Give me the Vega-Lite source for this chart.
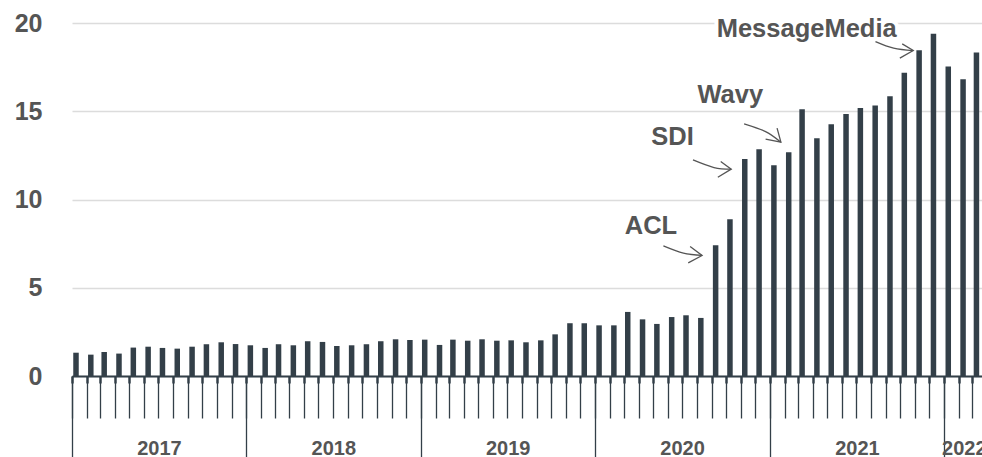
{
  "$schema": "https://vega.github.io/schema/vega-lite/v6.json",
  "width": 910,
  "height": 353,
  "autosize": {"type": "none"},
  "padding": {"left": 72, "top": 23, "right": 0, "bottom": 81},
  "background": "white",
  "config": {"view": {"stroke": null}, "font": "Liberation Sans"},
  "datasets": {
    "bars": [
      {"date": "2017-01-01", "value": 1.32}, {"date": "2017-02-01", "value": 1.21}, {"date": "2017-03-01", "value": 1.36},
      {"date": "2017-04-01", "value": 1.27}, {"date": "2017-05-01", "value": 1.61}, {"date": "2017-06-01", "value": 1.66},
      {"date": "2017-07-01", "value": 1.59}, {"date": "2017-08-01", "value": 1.55}, {"date": "2017-09-01", "value": 1.66},
      {"date": "2017-10-01", "value": 1.80}, {"date": "2017-11-01", "value": 1.91}, {"date": "2017-12-01", "value": 1.81},
      {"date": "2018-01-01", "value": 1.74}, {"date": "2018-02-01", "value": 1.59}, {"date": "2018-03-01", "value": 1.80},
      {"date": "2018-04-01", "value": 1.74}, {"date": "2018-05-01", "value": 1.97}, {"date": "2018-06-01", "value": 1.93},
      {"date": "2018-07-01", "value": 1.70}, {"date": "2018-08-01", "value": 1.74}, {"date": "2018-09-01", "value": 1.80},
      {"date": "2018-10-01", "value": 1.97}, {"date": "2018-11-01", "value": 2.08}, {"date": "2018-12-01", "value": 2.04},
      {"date": "2019-01-01", "value": 2.06}, {"date": "2019-02-01", "value": 1.76}, {"date": "2019-03-01", "value": 2.06},
      {"date": "2019-04-01", "value": 2.00}, {"date": "2019-05-01", "value": 2.08}, {"date": "2019-06-01", "value": 2.00},
      {"date": "2019-07-01", "value": 2.02}, {"date": "2019-08-01", "value": 1.91}, {"date": "2019-09-01", "value": 2.02},
      {"date": "2019-10-01", "value": 2.36}, {"date": "2019-11-01", "value": 2.99}, {"date": "2019-12-01", "value": 2.99},
      {"date": "2020-01-01", "value": 2.87}, {"date": "2020-02-01", "value": 2.87}, {"date": "2020-03-01", "value": 3.63},
      {"date": "2020-04-01", "value": 3.21}, {"date": "2020-05-01", "value": 2.95}, {"date": "2020-06-01", "value": 3.34},
      {"date": "2020-07-01", "value": 3.44}, {"date": "2020-08-01", "value": 3.29}, {"date": "2020-09-01", "value": 7.41},
      {"date": "2020-10-01", "value": 8.88}, {"date": "2020-11-01", "value": 12.30}, {"date": "2020-12-01", "value": 12.85},
      {"date": "2021-01-01", "value": 11.94}, {"date": "2021-02-01", "value": 12.68}, {"date": "2021-03-01", "value": 15.12},
      {"date": "2021-04-01", "value": 13.47}, {"date": "2021-05-01", "value": 14.27}, {"date": "2021-06-01", "value": 14.85},
      {"date": "2021-07-01", "value": 15.19}, {"date": "2021-08-01", "value": 15.32}, {"date": "2021-09-01", "value": 15.85},
      {"date": "2021-10-01", "value": 17.18}, {"date": "2021-11-01", "value": 18.46}, {"date": "2021-12-01", "value": 19.39},
      {"date": "2022-01-01", "value": 17.54}, {"date": "2022-02-01", "value": 16.82}, {"date": "2022-03-01", "value": 18.33}
    ],
    "labels": [
      {"date": "2020-04-27", "value": 8.5, "label": "ACL"},
      {"date": "2020-06-11", "value": 13.55, "label": "SDI"},
      {"date": "2020-10-10", "value": 15.93, "label": "Wavy"},
      {"date": "2021-03-19", "value": 19.67, "label": "MessageMedia"}
    ],
    "shafts": [
      {"arrow": "ACL", "i": 1, "date": "2020-05-23", "value": 7.37},
      {"arrow": "ACL", "i": 2, "date": "2020-07-04", "value": 6.96},
      {"arrow": "ACL", "i": 3, "date": "2020-08-12", "value": 6.83},
      {"arrow": "SDI", "i": 1, "date": "2020-07-24", "value": 12.24},
      {"arrow": "SDI", "i": 2, "date": "2020-09-06", "value": 11.81},
      {"arrow": "SDI", "i": 3, "date": "2020-10-12", "value": 11.72},
      {"arrow": "Wavy", "i": 1, "date": "2020-11-08", "value": 14.29},
      {"arrow": "Wavy", "i": 2, "date": "2020-12-23", "value": 13.85},
      {"arrow": "Wavy", "i": 3, "date": "2021-01-24", "value": 13.25},
      {"arrow": "MessageMedia", "i": 1, "date": "2021-08-10", "value": 18.95},
      {"arrow": "MessageMedia", "i": 2, "date": "2021-09-17", "value": 18.58},
      {"arrow": "MessageMedia", "i": 3, "date": "2021-10-28", "value": 18.44}
    ],
    "heads": [
      {"arrow": "ACL", "i": 1, "date": "2020-07-18", "value": 7.34},
      {"arrow": "ACL", "i": 2, "date": "2020-08-12", "value": 6.83},
      {"arrow": "ACL", "i": 3, "date": "2020-07-14", "value": 6.41},
      {"arrow": "SDI", "i": 1, "date": "2020-09-20", "value": 12.15},
      {"arrow": "SDI", "i": 2, "date": "2020-10-12", "value": 11.72},
      {"arrow": "SDI", "i": 3, "date": "2020-09-14", "value": 11.26},
      {"arrow": "Wavy", "i": 1, "date": "2021-01-16", "value": 14.04},
      {"arrow": "Wavy", "i": 2, "date": "2021-01-24", "value": 13.25},
      {"arrow": "Wavy", "i": 3, "date": "2020-12-23", "value": 13.42},
      {"arrow": "MessageMedia", "i": 1, "date": "2021-10-05", "value": 18.82},
      {"arrow": "MessageMedia", "i": 2, "date": "2021-10-28", "value": 18.44},
      {"arrow": "MessageMedia", "i": 3, "date": "2021-09-30", "value": 18.01}
    ]
  },
  "resolve": {"axis": {"x": "independent"}},
  "layer": [
    {
      "data": {"name": "bars"},
      "mark": {"type": "bar", "color": "#333f48", "width": 5.5, "xOffset": 4},
      "encoding": {
        "x": {
          "field": "date", "type": "temporal", "title": null,
          "scale": {"type": "utc", "padding": 0, "domain": [{"year": 2017, "month": 1, "date": 1, "utc": true}, {"year": 2022, "month": 3, "date": 21, "utc": true}]},
          "axis": {
            "orient": "bottom", "tickCount": {"interval": "month", "step": 1}, "labels": false,
            "tickSize": 42, "tickColor": "#333f48", "tickWidth": 1.3,
            "domain": true, "domainColor": "#333f48", "domainWidth": 2, "grid": false
          }
        },
        "y": {
          "field": "value", "type": "quantitative", "title": null,
          "scale": {"domain": [0, 20], "nice": false},
          "axis": {
            "values": [0, 5, 10, 15, 20], "domain": false, "ticks": false, "grid": true,
            "gridColor": "#dcdcdc", "gridWidth": 1.5, "labelPadding": 30,
            "labelFontSize": 25, "labelFont": "Liberation Sans", "labelFontWeight": "bold", "labelColor": "#555555"
          }
        }
      }
    },
    {
      "data": {"name": "labels"},
      "transform": [{"filter": "datum.label == 'MessageMedia'"}],
      "mark": {"type": "text", "font": "Liberation Sans", "fontSize": 25.5, "fontWeight": "bold", "color": "white", "stroke": "white", "strokeWidth": 8, "align": "center", "baseline": "middle"},
      "encoding": {
        "x": {"field": "date", "type": "temporal", "title": null, "axis": null,
          "scale": {"type": "utc", "padding": 0, "domain": [{"year": 2017, "month": 1, "date": 1, "utc": true}, {"year": 2022, "month": 3, "date": 21, "utc": true}]}},
        "y": {"field": "value", "type": "quantitative", "title": null, "scale": {"domain": [0, 20], "nice": false}},
        "text": {"field": "label"}
      }
    },
    {
      "data": {"name": "labels"},
      "mark": {"type": "text", "font": "Liberation Sans", "fontSize": 25.5, "fontWeight": "bold", "color": "#555555", "align": "center", "baseline": "middle"},
      "encoding": {
        "x": {
          "field": "date", "type": "temporal", "title": null,
          "scale": {"type": "utc", "padding": 0, "domain": [{"year": 2017, "month": 1, "date": 1, "utc": true}, {"year": 2022, "month": 3, "date": 21, "utc": true}]},
          "axis": {
            "orient": "bottom", "tickCount": {"interval": "year", "step": 1}, "format": "%Y",
            "tickSize": 81, "tickColor": "#333f48", "tickWidth": 1.3, "domain": false, "grid": false,
            "labelFlush": false, "labelOverlap": false, "labelAlign": "center", "labelBaseline": "middle",
            "labelPadding": -9,
            "labelOffset": {"condition": {"test": "utcyear(datum.value) == 2022", "value": 19.5}, "value": 87},
            "labelFontSize": 20, "labelFontWeight": "bold", "labelColor": "#555555", "labelFont": "Liberation Sans"
          }
        },
        "y": {"field": "value", "type": "quantitative", "title": null, "scale": {"domain": [0, 20], "nice": false}},
        "text": {"field": "label"}
      }
    },
    {
      "data": {"name": "shafts"},
      "mark": {"type": "line", "interpolate": "cardinal", "color": "#555555", "strokeWidth": 1.3},
      "encoding": {
        "x": {"field": "date", "type": "temporal", "title": null,
          "scale": {"type": "utc", "padding": 0, "domain": [{"year": 2017, "month": 1, "date": 1, "utc": true}, {"year": 2022, "month": 3, "date": 21, "utc": true}]},
          "axis": {
            "orient": "bottom", "tickCount": {"interval": "month", "step": 1}, "labels": false,
            "tickSize": 7, "tickColor": "#333f48", "tickWidth": 2.4, "domain": false, "grid": false
          }
        },
        "y": {"field": "value", "type": "quantitative", "title": null, "scale": {"domain": [0, 20], "nice": false}},
        "detail": {"field": "arrow"},
        "order": {"field": "i"}
      }
    },
    {
      "data": {"name": "heads"},
      "mark": {"type": "line", "color": "#555555", "strokeWidth": 1.3},
      "encoding": {
        "x": {"field": "date", "type": "temporal", "title": null, "axis": null,
          "scale": {"type": "utc", "padding": 0, "domain": [{"year": 2017, "month": 1, "date": 1, "utc": true}, {"year": 2022, "month": 3, "date": 21, "utc": true}]}},
        "y": {"field": "value", "type": "quantitative", "title": null, "scale": {"domain": [0, 20], "nice": false}},
        "detail": {"field": "arrow"},
        "order": {"field": "i"}
      }
    }
  ]
}
